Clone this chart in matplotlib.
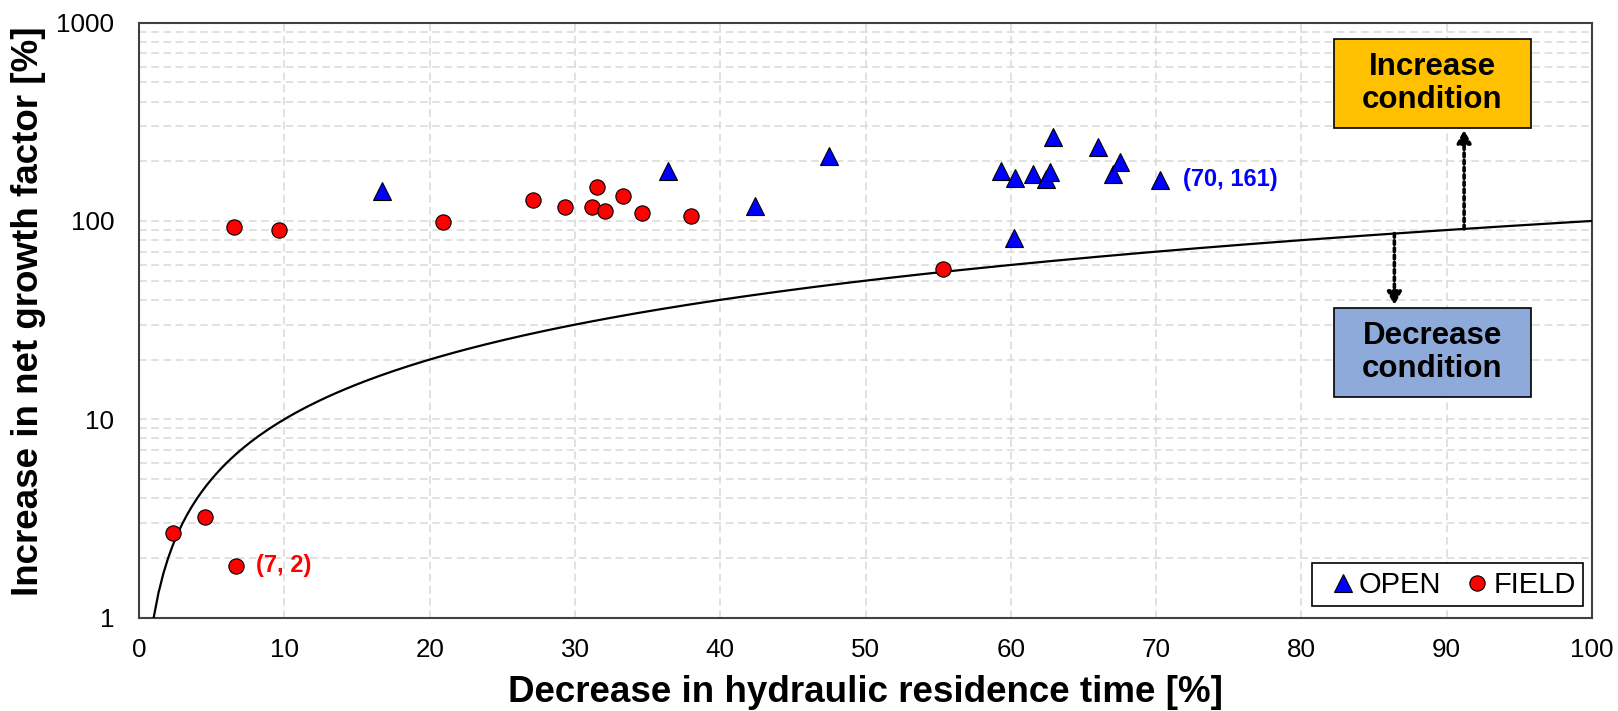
import numpy as np
import matplotlib
matplotlib.use("Agg")
import matplotlib.pyplot as plt
from matplotlib.patches import Rectangle
from matplotlib.ticker import LogLocator, NullFormatter

plt.rcParams['font.family'] = ['Liberation Sans', 'DejaVu Sans']

# OPEN sites: decrease in HRT [%] vs increase in net growth factor [%]
open_x = [16.7, 36.4, 42.4, 47.5, 59.3, 60.2, 60.3, 61.5, 62.4, 62.7, 62.9, 66.0, 67.0, 67.5, 70.3]
open_y = [141, 179, 119, 213, 179, 82, 164, 173, 162, 176, 264, 236, 173, 199, 161]

# FIELD sites
field_x = [2.3, 4.5, 6.7, 6.5, 9.6, 20.9, 27.1, 29.3, 31.2, 31.5, 32.1, 33.3, 34.6, 38.0, 55.3]
field_y = [2.66, 3.22, 1.82, 93, 90, 99, 128, 118, 118, 149, 112, 134, 110, 106, 57]

x_ticks = [0, 10, 20, 30, 40, 50, 60, 70, 80, 90, 100]
y_ticks = [1, 10, 100, 1000]
y_tick_labels = ['1', '10', '100', '1000']

# points that get a value label
open_note = (70.3, 161, '(70, 161)')
field_note = (6.7, 1.82, '(7, 2)')

# boundary: growth increase equals HRT decrease
line_x = np.linspace(1, 100, 300)
line_y = line_x

# x positions of the dotted arrows leaving the boundary line
up_x = 91.2
down_x = 86.4

fig = plt.figure(figsize=(16.18, 7.11), dpi=100)
ax = fig.add_axes([0.0860, 0.1315, 0.8979, 0.8366])

ax.set_yscale('log')
ax.set_xlim(0, 100)
ax.set_ylim(1, 1000)

ax.set_xticks(x_ticks)
ax.set_xticklabels([str(t) for t in x_ticks])
ax.set_yticks(y_ticks)
ax.set_yticklabels(y_tick_labels)
ax.yaxis.set_minor_locator(LogLocator(base=10, subs=np.arange(2, 10)))
ax.yaxis.set_minor_formatter(NullFormatter())
ax.tick_params(which='both', length=0, labelsize=18.7, colors='black')
ax.tick_params(axis='x', pad=15)
ax.tick_params(axis='y', pad=18)

grid_kw = dict(color='#d9d9d9', linestyle=(0, (5, 3)), linewidth=1.1)
ax.grid(axis='x', which='major', **grid_kw)
ax.grid(axis='y', which='both', **grid_kw)
ax.set_axisbelow(True)

for s in ax.spines.values():
    s.set_color('#404040')
    s.set_linewidth(1.5)

ax.plot(line_x, line_y, color='black', linewidth=1.6, zorder=3)

ax.plot(open_x, open_y, linestyle='none', marker='^', markersize=12.8,
        markerfacecolor='#0000ff', markeredgecolor='black', markeredgewidth=0.8,
        label='OPEN', zorder=5)
ax.plot(field_x, field_y, linestyle='none', marker='o', markersize=11,
        markerfacecolor='#ff0000', markeredgecolor='black', markeredgewidth=0.8,
        label='FIELD', zorder=5)

ax.annotate(open_note[2], xy=(open_note[0], open_note[1]), xytext=(16, 0),
            textcoords='offset points', va='center', ha='left',
            fontsize=17, fontweight='bold', color='#0000ff')
ax.annotate(field_note[2], xy=(field_note[0], field_note[1]), xytext=(14, 0),
            textcoords='offset points', va='center', ha='left',
            fontsize=17, fontweight='bold', color='#ff0000')

# condition boxes
boxes = [(0.9726, '#ffc000', 'Increase\ncondition'),
         (0.5203, '#8eaadb', 'Decrease\ncondition')]
box_left, box_w, box_h = 0.8224, 0.1356, 0.1496
for top, fc, txt in boxes:
    ax.add_patch(Rectangle((box_left, top - box_h), box_w, box_h, transform=ax.transAxes,
                           facecolor=fc, edgecolor='black', linewidth=1.2, zorder=6))
    ax.text(box_left + box_w / 2, top - box_h / 2, txt, transform=ax.transAxes,
            ha='center', va='center', fontsize=22.5, fontweight='bold',
            linespacing=1.15, zorder=7)

arrow_kw = dict(arrowstyle='-|>,head_length=0.75,head_width=0.42', color='black',
                linewidth=2.6, linestyle=(0, (1, 1)), shrinkA=0, shrinkB=0)
ax.annotate('', xy=(up_x, 0.8196), xycoords=('data', 'axes fraction'),
            xytext=(up_x, up_x), textcoords='data', arrowprops=arrow_kw, zorder=6)
ax.annotate('', xy=(down_x, 0.5254), xycoords=('data', 'axes fraction'),
            xytext=(down_x, down_x), textcoords='data', arrowprops=arrow_kw, zorder=6)

leg = ax.legend(loc='lower right', bbox_to_anchor=(0.9938, 0.0193), borderaxespad=0,
                ncol=2, fontsize=21, frameon=True, fancybox=False, framealpha=1,
                handlelength=1.62, handletextpad=-0.26, columnspacing=0.42,
                borderpad=0.25, edgecolor='black')
leg.get_frame().set_linewidth(1.2)

ax.set_xlabel('Decrease in hydraulic residence time [%]', fontsize=26.5, fontweight='bold')
ax.set_ylabel('Increase in net growth factor [%]', fontsize=26.5, fontweight='bold')
ax.xaxis.set_label_coords(0.5, -0.097)
ax.yaxis.set_label_coords(-0.064, 0.515)

fig.savefig('out.png', dpi=100)
